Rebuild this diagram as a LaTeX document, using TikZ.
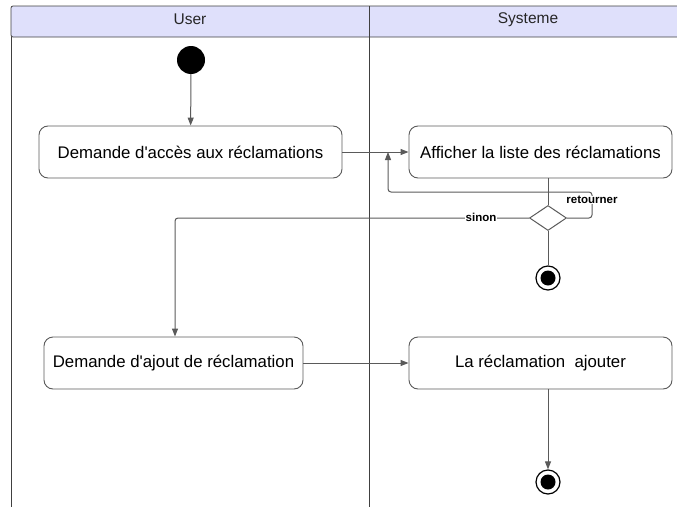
\documentclass[tikz,border=0pt]{standalone}
\usepackage{fontspec}
\setmainfont{Liberation Sans}
\usetikzlibrary{shapes.geometric,arrows.meta}
\definecolor{lane}{HTML}{DFE0FB}
\definecolor{edge}{HTML}{5A5A5A}
\begin{document}
\begin{tikzpicture}[x=1pt,y=-1pt,
  action/.style={draw=edge,line width=0.9pt,rounded corners=9pt,fill=white,
    font=\fontsize{16.8}{19}\selectfont,inner sep=0pt},
  flow/.style={draw=edge,line width=1pt,-{Triangle[length=8pt,width=6pt]}},
  link/.style={draw=edge,line width=1pt},
  guard/.style={font=\bfseries\fontsize{11.5}{13}\selectfont,fill=white,inner sep=0.5pt},
  decision/.style={diamond,draw=edge,line width=1pt,fill=white,minimum width=37pt,minimum height=25pt,inner sep=0pt,aspect=1.5},
  laneline/.style={draw=black!75,line width=0.8pt},
  headtext/.style={font=\fontsize{15.5}{18}\selectfont,text=black!85}]
\useasboundingbox (0,0) rectangle (677,506);
\clip (0,0) rectangle (677,506);
% swimlane header
\path[fill=lane,draw=black!75,line width=0.8pt,rounded corners=2pt] (11,37) -- (11,6) -- (690,6) -- (690,37) -- cycle;
\node[headtext] (userhead) at (190,19.5) {User};
\node[headtext] (syshead) at (528,19.5) {Systeme};
\draw[laneline] (11,37) -- (11,510);
\draw[laneline] (369,6) -- (369,510);
% nodes
\node[circle,fill=black,minimum size=28pt,inner sep=0pt] (start) at (191,60) {};
\node[action,minimum width=303pt,minimum height=52pt] (ask) at (190.5,152) {Demande d\textquotesingle acc\`es aux r\'eclamations};
\node[action,minimum width=263pt,minimum height=52pt] (list) at (540.5,152) {Afficher la liste des r\'eclamations};
\node[decision] (choice) at (548,218) {};
\node[circle,draw=black,line width=1.2pt,fill=white,minimum size=24pt,inner sep=0pt] (endA) at (548,278) {};
\node[circle,fill=black,minimum size=15pt,inner sep=0pt] at (endA) {};
\node[action,minimum width=259pt,minimum height=52pt] (add) at (173.5,363) {Demande d\textquotesingle ajout de r\'eclamation};
\node[action,minimum width=263pt,minimum height=52pt] (done) at (540.5,363) {La r\'eclamation\ \ ajouter};
\node[circle,draw=black,line width=1.2pt,fill=white,minimum size=24pt,inner sep=0pt] (endB) at (548,482) {};
\node[circle,fill=black,minimum size=15pt,inner sep=0pt] at (endB) {};
\coordinate (backin) at (388,152);
% connectors
\draw[flow] (start) -- (ask);
\draw[flow] (ask) -- (list);
\draw[link] (list.south -| choice) -- (choice.north);
\draw[link] (choice) -- (endA);
\draw[flow,rounded corners=3pt] (choice.east) -- (592,218) -- (592,192) -- (388,192) -- (backin);
\node[guard] (retlabel) at (592,200) {retourner};
\draw[flow,rounded corners=3pt] (choice.west) -- (175,218) -- (add.north -| 175,0);
\node[guard] (sinlabel) at (481,217) {sinon};
\draw[flow] (add) -- (done);
\draw[flow] (done.south -| endB) -- (endB);
\end{tikzpicture}
\end{document}
